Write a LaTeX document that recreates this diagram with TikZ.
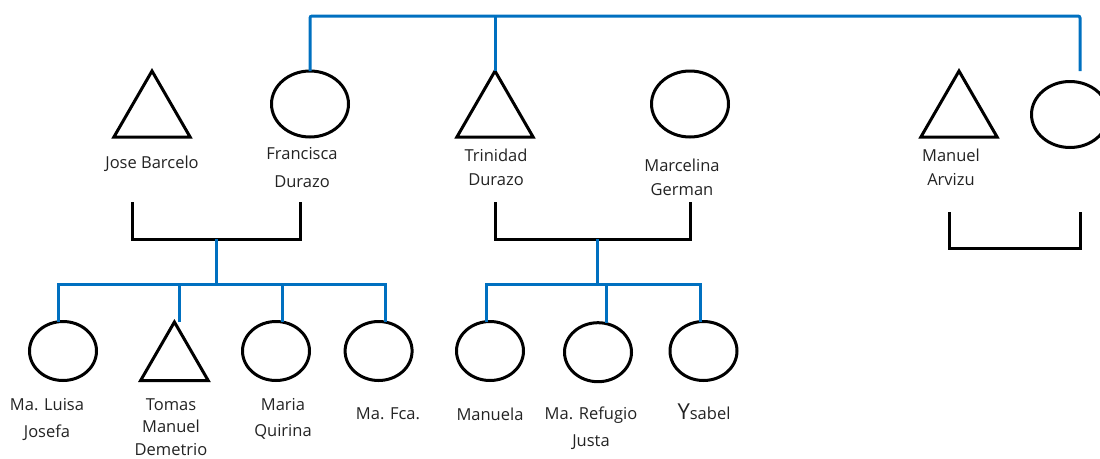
\documentclass[tikz,border=0pt]{standalone}
\usepackage{fontspec}
\setmainfont{Open Sans}
\usetikzlibrary{shapes.geometric,calc}
\definecolor{kinblue}{RGB}{0,112,192}
\definecolor{txt}{RGB}{35,35,35}
\begin{document}
\begin{tikzpicture}[x=1pt,y=-1pt,
  male/.style={draw=black, line width=3pt, regular polygon, regular polygon sides=3, minimum size=88pt, inner sep=0pt, outer sep=0pt},
  female/.style={draw=black, line width=3pt, ellipse, minimum width=77pt, minimum height=66pt, inner sep=0pt, outer sep=0pt},
  cmale/.style={male, minimum size=78pt},
  cfemale/.style={female, minimum width=67pt, minimum height=59pt},
  blueline/.style={draw=kinblue, line width=3pt},
  kinline/.style={draw=black, line width=3pt},
  lbl/.style={font=\fontsize{16.5}{24}\selectfont, align=center, text=txt, inner sep=0pt}]
\useasboundingbox (0,0) rectangle (1100,458);
% generation 1
\node[male] (jose) at (152,115) {};
\node[female] (fran) at (310,104) {};
\node[male] (trin) at (495,115) {};
\node[female] (marc) at (690,104) {};
\node[male] (manu) at (959,115) {};
\node[female] (unk) at (1070,114.5) {};
% labels gen 1
\node[lbl] (ljose) at (152,164) {Jose Barcelo};
\node[lbl, font=\fontsize{16.5}{28}\selectfont] (lfran) at (302,168) {Francisca\\Durazo};
\node[lbl] (ltrin) at (496,167) {Trinidad\\Durazo};
\node[lbl, font=\fontsize{16.5}{23.5}\selectfont] (lmarc) at (682,177.5) {Marcelina\\German};
\node[lbl] (lmanu) at (951,167) {Manuel\\Arvizu};
% sibling line at top
\coordinate (tr) at (1080,16);
\coordinate (unkend) at (1080,71);
\draw[blueline, rounded corners=2pt] (fran.north) |- (tr) -- (unkend);
\draw[blueline] (trin.corner 1) -- (trin.corner 1 |- tr);
% marriage brackets
\coordinate (b1a) at (132.6,202);
\coordinate (b1b) at (300,202);
\coordinate (b1m) at (216.5,239);
\draw[kinline] (b1a) -- (b1a |- b1m) -- (b1b |- b1m) -- (b1b);
\coordinate (b2a) at (495,202);
\coordinate (b2b) at (690,202);
\coordinate (b2m) at (597,239);
\draw[kinline] (b2a) -- (b2a |- b2m) -- (b2b |- b2m) -- (b2b);
\coordinate (b3a) at (949,212);
\coordinate (b3b) at (1080,212);
\coordinate (b3m) at (1000,248);
\draw[kinline] (b3a) -- (b3a |- b3m) -- (b3b |- b3m) -- (b3b);
% children of Jose & Francisca
\node[cfemale] (lu) at (63,351) {};
\node[cmale] (tom) at (174.4,361) {};
\node[cfemale] (mar) at (276,351) {};
\node[cfemale] (fca) at (378.6,351) {};
\coordinate (bar1) at (216.5,284.5);
\draw[blueline] (b1m) -- (bar1);
\draw[blueline] ([xshift=-5pt]lu.north) |- (bar1) -| ([xshift=6.4pt]fca.north);
\draw[blueline] ([xshift=5.2pt]tom.corner 1) -- ([xshift=5.2pt]tom.corner 1 |- bar1);
\draw[blueline] ([xshift=6.5pt]mar.north) -- ([xshift=6.5pt]mar.north |- bar1);
\node[lbl, font=\fontsize{16.5}{26.5}\selectfont] (llu) at (47,419.5) {Ma. Luisa\\Josefa};
\node[lbl, font=\fontsize{16.5}{22.5}\selectfont] (ltom) at (171,427) {Tomas\\Manuel\\Demetrio};
\node[lbl, font=\fontsize{16.5}{26}\selectfont] (lmar) at (283,419) {Maria\\Quirina};
\node[lbl] (lfca) at (388,414) {Ma. Fca.};
% children of Trinidad & Marcelina
\node[cfemale] (man) at (490,351) {};
\node[cfemale] (ref) at (598,352.2) {};
\node[cfemale] (ysa) at (703.5,351) {};
\coordinate (bar2) at (597,284.5);
\draw[blueline] (b2m) -- (bar2);
\draw[blueline] ([xshift=-4pt]man.north) |- (bar2) -| ([xshift=-3.5pt]ysa.north);
\draw[blueline] ([xshift=8pt]ref.north) -- ([xshift=8pt]ref.north |- bar2);
\node[lbl] (lman) at (490,414) {Manuela};
\node[lbl, font=\fontsize{16.5}{27.5}\selectfont] (lref) at (591,428) {Ma. Refugio\\Justa};
\node[lbl, anchor=base] (lysa) at (704,419.5) {{\fontsize{22}{24}\selectfont Y}sabel};
\end{tikzpicture}
\end{document}
